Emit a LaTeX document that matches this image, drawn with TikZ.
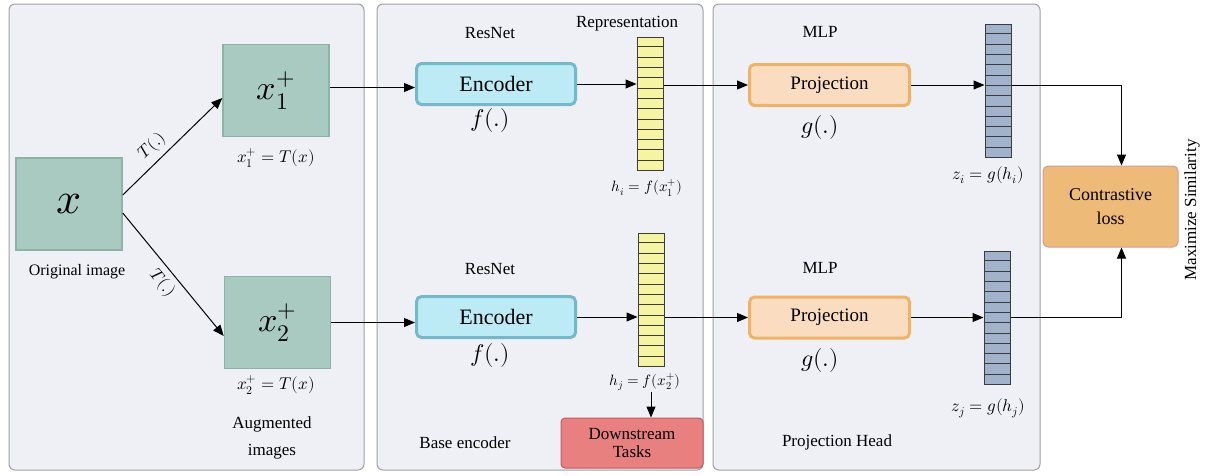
\documentclass[tikz,border=0pt]{standalone}
\usepackage{fontspec}
\usepackage{unicode-math}
\setmainfont{Liberation Serif}
\setmathfont{Latin Modern Math}
\newfontfamily\serifft{Liberation Serif}
\usetikzlibrary{arrows.meta,calc}
\definecolor{panelbg}{HTML}{EEF0F5}
\definecolor{panelbd}{HTML}{A0A0A4}
\definecolor{greenfill}{HTML}{A9CAC1}
\definecolor{greenbd}{HTML}{8DB3A6}
\definecolor{encfill}{HTML}{BDEBF5}
\definecolor{encbd}{HTML}{72B9C9}
\definecolor{projfill}{HTML}{FADDC0}
\definecolor{projbd}{HTML}{F0B265}
\definecolor{lossfill}{HTML}{EDBB77}
\definecolor{lossbd}{HTML}{D49A9A}
\definecolor{downfill}{HTML}{E88080}
\definecolor{downbd}{HTML}{C25A5A}
\definecolor{yelfill}{HTML}{F4F4A2}
\definecolor{bluefill}{HTML}{A0B3CB}
\definecolor{barbd}{HTML}{3C3C3C}
\begin{document}
\begin{tikzpicture}[x=1pt,y=-1pt,
  panel/.style={draw=panelbd, fill=panelbg, rounded corners=6pt, line width=1pt},
  imgbox/.style={draw=greenbd, fill=greenfill, line width=1.5pt, minimum width=106pt, minimum height=92pt, inner sep=0pt},
  encbox/.style={draw=encbd, fill=encfill, line width=3pt, rounded corners=5pt, minimum width=159pt, minimum height=41pt, font=\serifft\fontsize{22}{24}\selectfont},
  projbox/.style={draw=projbd, fill=projfill, line width=3pt, rounded corners=5pt, minimum width=160pt, minimum height=41pt, font=\serifft\fontsize{19}{22}\selectfont},
  vecbar/.style={draw=barbd, line width=1pt, minimum width=26pt, minimum height=133pt, inner sep=0pt},
  lbl/.style={font=\serifft\fontsize{17}{19}\selectfont, inner sep=1pt},
  mlbl/.style={font=\serifft\fontsize{16}{18}\selectfont, inner sep=1pt},
  fn/.style={font=\fontsize{24}{26}\selectfont, inner sep=1pt},
  arr/.style={-{Triangle[length=11pt,width=9pt]}, line width=1pt}
]
\useasboundingbox (0,0) rectangle (1214,475);
\fill[white] (0,0) rectangle (1214,475);

% panels
\draw[panel] (9,4) rectangle (364,470);
\draw[panel] (377,4) rectangle (703,470);
\draw[panel] (713,4) rectangle (1040,470);

% images
\node[imgbox] (x) at (69,204) {\fontsize{44}{44}\selectfont$x$};
\node[imgbox] (x1p) at (276,90.5) {\fontsize{34}{34}\selectfont$x_1^+$};
\node[imgbox] (x2p) at (277.5,322.5) {\fontsize{34}{34}\selectfont$x_2^+$};
\node[mlbl] (orig) at (77,272) {Original image};
\node[lbl] (t1lab) at (276,158) {$x_1^+ = T(x)$};
\node[lbl] (t2lab) at (276,385) {$x_2^+ = T(x)$};
\node[lbl, align=center, font=\serifft\fontsize{17}{27}\selectfont] (aug) at (272,438) {Augmented\\images};

% encoders
\node[lbl] (rn1) at (490,33) {ResNet};
\node[lbl] (rn2) at (490,269) {ResNet};
\node[encbox] (enc1) at (496,84) {Encoder};
\node[encbox] (enc2) at (496,317) {Encoder};
\node[fn] (f1) at (490,120) {$f(.)$};
\node[fn] (f2) at (490,355) {$f(.)$};
\node[lbl] (rep) at (627,24) {Representation};

% representation bars
\node[vecbar, fill=yelfill] (bar1) at (650,103.5) {};
\node[vecbar, fill=yelfill] (bar2) at (651,299.5) {};
\node[font=\fontsize{15}{16}\selectfont, inner sep=1pt] (hi) at (647,188) {$h_i = f(x_1^+)$};
\node[font=\fontsize{15}{16}\selectfont, inner sep=1pt] (hj) at (645,382) {$h_j = f(x_2^+)$};
\node[lbl] (base) at (465,443) {Base encoder};
\node[draw=downbd, fill=downfill, line width=1pt, rounded corners=4pt, minimum width=142pt, minimum height=50pt, align=center, font=\serifft\fontsize{17}{18}\selectfont, inner sep=1pt] (down) at (632,443) {Downstream\\Tasks};

% projection
\node[lbl] (mlp1) at (820,32) {MLP};
\node[lbl] (mlp2) at (820,268) {MLP};
\node[projbox] (proj1) at (829.5,85) {Projection};
\node[projbox] (proj2) at (829.5,317.5) {Projection};
\node[fn] (g1) at (820,127) {$g(.)$};
\node[fn] (g2) at (820,360) {$g(.)$};
\node[vecbar, fill=bluefill] (zb1) at (998,90.5) {};
\node[vecbar, fill=bluefill] (zb2) at (997,317.5) {};
\node[lbl] (zi) at (988,175) {$z_i = g(h_i)$};
\node[lbl] (zj) at (988,408) {$z_j = g(h_j)$};
\node[lbl] (ph) at (837,442) {Projection Head};

% loss
\node[draw=lossbd, fill=lossfill, line width=1pt, rounded corners=5pt, minimum width=135pt, minimum height=81pt, align=center, font=\serifft\fontsize{18}{24}\selectfont] (loss) at (1110.5,206.5) {Contrastive\\loss};
\node[lbl, rotate=90] (maxsim) at (1192,210) {Maximize Similarity};

% stripes
\foreach \b in {bar1,bar2,zb1,zb2}{
  \foreach \i in {1,...,12}{
    \draw[barbd, line width=0.8pt] ($(\b.north west)!\i/13!(\b.south west)$) -- ($(\b.north east)!\i/13!(\b.south east)$);
  }
}

% connectors
\draw[arr] ([yshift=9pt]x.east) -- node[sloped, above=4pt, pos=0.4, lbl] {$T(.)$} ([yshift=-7.5pt]x1p.west);
\draw[arr] ([yshift=-9pt]x.east) -- node[sloped, below=4pt, pos=0.5, lbl] {$T(.)$} ([yshift=-13.5pt]x2p.west);
\draw[arr] ([yshift=3pt]x1p.east) -- ([yshift=3pt]x1p.east -| enc1.west);
\draw[arr] (x2p.east) -- (x2p.east -| enc2.west);
\draw[arr] (enc1.east) -- (enc1.east -| bar1.west);
\draw[arr] (enc2.east) -- (enc2.east -| bar2.west);
\draw[arr] (bar1.east |- proj1.west) -- (proj1.west);
\draw[arr] (bar2.east |- proj2.west) -- (proj2.west);
\draw[arr] (proj1.east) -- (proj1.east -| zb1.west);
\draw[arr] (proj2.east) -- (proj2.east -| zb2.west);
\draw[arr] (zb1.east |- proj1.east) -| ([xshift=11pt]loss.north);
\draw[arr] (zb2.east |- proj2.east) -| ([xshift=11pt]loss.south);
\draw[arr] (hj.south -| bar2.south) -- (bar2.south |- down.north);
\end{tikzpicture}
\end{document}
